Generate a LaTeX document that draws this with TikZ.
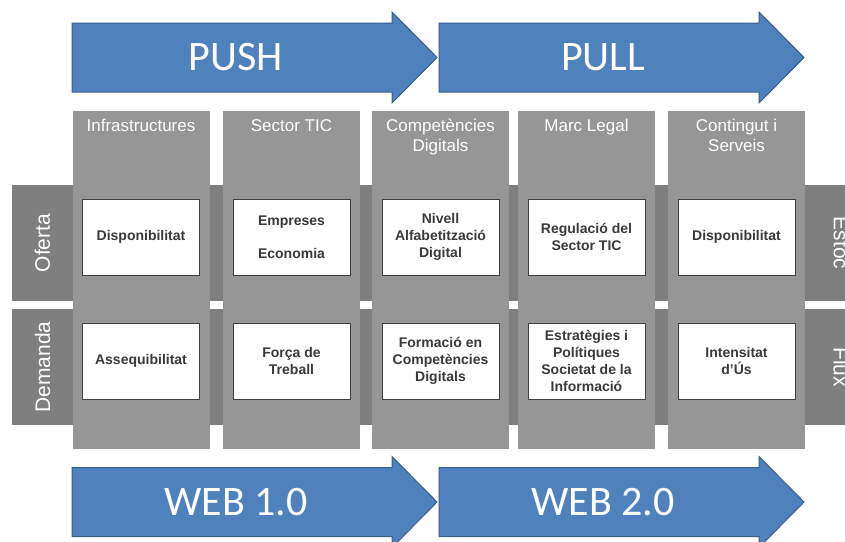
\documentclass[tikz,border=0pt]{standalone}
\usepackage{fontspec}
\setmainfont{Liberation Sans}
\newfontfamily\carlito{Carlito}
\definecolor{arrowblue}{HTML}{4F81BD}
\definecolor{arrowline}{HTML}{385D8A}
\definecolor{colgray}{HTML}{969696}
\definecolor{rowgray}{HTML}{7F7F7F}
\definecolor{celledge}{HTML}{404040}
\definecolor{celltext}{HTML}{3A3A3A}
\begin{document}
\begin{tikzpicture}[x=1pt,y=-1pt,
  bigarrow/.style={fill=arrowblue, draw=arrowline, line width=1pt},
  arrowtext/.style={text=white, font=\carlito\fontsize{42}{50}\selectfont},
  band/.style={fill=rowgray, anchor=north west, minimum width=850pt, minimum height=116pt, inner sep=0pt},
  bandlabel/.style={text=white, font=\fontsize{21}{25}\selectfont},
  column/.style={fill=colgray, anchor=north, minimum width=137pt, minimum height=338pt, inner sep=0pt},
  header/.style={anchor=north, yshift=-8pt, inner sep=0pt, text=white, align=center, font=\fontsize{17}{20}\selectfont},
  cell/.style={draw=celledge, fill=white, line width=0.8pt, minimum width=117pt, minimum height=76pt, inner sep=2pt, align=center, text=celltext, font=\bfseries\fontsize{14}{17}\selectfont}]
  \useasboundingbox (0,0) rectangle (845,541);
  \clip (0,0) rectangle (845,541);

  % rows
  \node[band] (oferta) at (12,185) {};
  \node[band] (demanda) at (12,309) {};
  \node[bandlabel, rotate=90] (ofertalbl) at (42.5,243) {Oferta};
  \node[bandlabel, rotate=90] (demandalbl) at (42.5,367) {Demanda};
  \node[bandlabel, rotate=-90] (estoc) at (841,243) {Estoc};
  \node[bandlabel, rotate=-90] (flux) at (841,367) {Flux};

  % columns
  \foreach \i/\cx/\txt in {1/141/Infrastructures, 2/291.5/Sector TIC,
      3/440.5/{Competències\\Digitals}, 4/586.5/Marc Legal,
      5/736.5/{Contingut i\\Serveis}} {
    \node[column] (col\i) at (\cx,111) {};
    \node[header] (head\i) at (col\i.north) {\txt};
  }

  % cells
  \coordinate (uprow) at (0,237);
  \coordinate (downrow) at (0,361);
  \foreach \i/\up/\down in {1/Disponibilitat/Assequibilitat,
      2/{Empreses\\[16pt]Economia}/{Força de\\Treball},
      3/{Nivell\\Alfabetització\\Digital}/{Formació en\\Competències\\Digitals},
      4/{Regulació del\\Sector TIC}/{Estratègies i\\Polítiques\\Societat de la\\Informació},
      5/Disponibilitat/{Intensitat\\d’Ús}} {
    \node[cell] (sup\i) at (col\i |- uprow) {\up};
    \node[cell] (dem\i) at (col\i |- downrow) {\down};
  }

  % arrows
  \foreach \x/\y/\name/\txt in {72/57.5/push/PUSH, 439/57.5/pull/PULL,
      72/502/web1/WEB 1.0, 439/502/web2/WEB 2.0} {
    \draw[bigarrow] (\x,\y-34.5) -- ++(320,0) -- ++(0,-11) -- (\x+365,\y)
      -- (\x+320,\y+45.5) -- ++(0,-11) -- (\x,\y+34.5) -- cycle;
    \node[arrowtext] (\name) at (\x+164,\y) {\txt};
  }
\end{tikzpicture}
\end{document}
